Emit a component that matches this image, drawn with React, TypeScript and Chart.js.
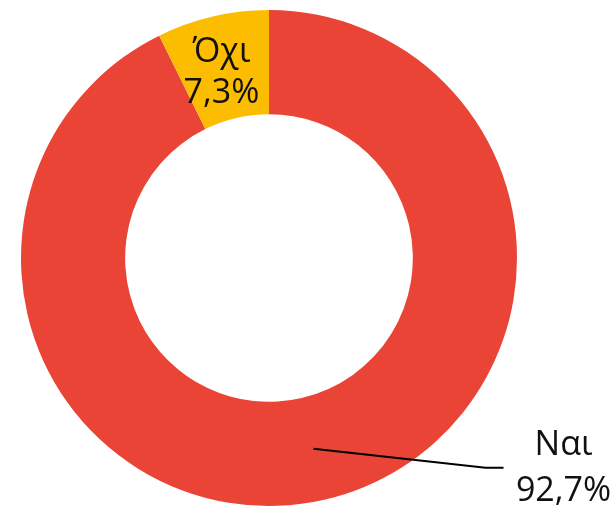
import React, { useEffect, useRef } from "react";
import { Chart, registerables } from "chart.js";

Chart.register(...registerables);

const categories = ["Ναι", "Όχι"];
const values = [92.7, 7.3];
const colors = ["#E94436", "#FCBD00"];

const FONT = "'Open Sans', 'Noto Sans', sans-serif";

const fmt = (v: number) => v.toFixed(1).replace(".", ",") + "%";

const labelPlugin = {
  id: "sliceLabels",
  afterDatasetsDraw(chart: any) {
    const ctx = chart.ctx;
    const meta = chart.getDatasetMeta(0);
    ctx.save();
    ctx.fillStyle = "#111111";
    ctx.font = `34px ${FONT}`;
    ctx.textAlign = "center";
    ctx.textBaseline = "middle";
    meta.data.forEach((arc: any, i: number) => {
      const p = arc.tooltipPosition();
      const name = categories[i];
      const pct = fmt(values[i]);
      if (values[i] < 50) {
        ctx.fillText(name, p.x - 3, p.y - 15);
        ctx.fillText(pct, p.x - 3, p.y + 26);
      } else {
        const ex = p.x + 172;
        const ey = p.y + 19;
        const hx = ex + 18;
        ctx.strokeStyle = "#000000";
        ctx.lineWidth = 2;
        ctx.beginPath();
        ctx.moveTo(p.x, p.y);
        ctx.lineTo(ex, ey);
        ctx.lineTo(hx, ey);
        ctx.stroke();
        const tx = hx + 60;
        ctx.fillText(name, tx, ey - 22);
        ctx.fillText(pct, tx, ey + 24);
      }
    });
    ctx.restore();
  },
};

export default function App() {
  const ref = useRef<HTMLCanvasElement>(null);
  useEffect(() => {
    if (!ref.current) return;
    const chart = new Chart(ref.current, {
      type: "doughnut",
      data: {
        labels: categories,
        datasets: [
          {
            data: values,
            backgroundColor: colors,
            borderWidth: 0,
          },
        ],
      },
      options: {
        animation: false,
        responsive: false,
        maintainAspectRatio: false,
        cutout: "58%",
        layout: { padding: { top: 10, bottom: 3, left: 21, right: 99 } },
        plugins: {
          legend: { display: false },
          tooltip: { enabled: false },
        },
      },
      plugins: [labelPlugin],
    });
    return () => chart.destroy();
  }, []);
  return (
    <div style={{ position: "fixed", left: 0, top: 0, width: 616, height: 509, background: "#ffffff" }}>
      <canvas ref={ref} width={616} height={509} style={{ width: 616, height: 509 }} />
    </div>
  );
}
